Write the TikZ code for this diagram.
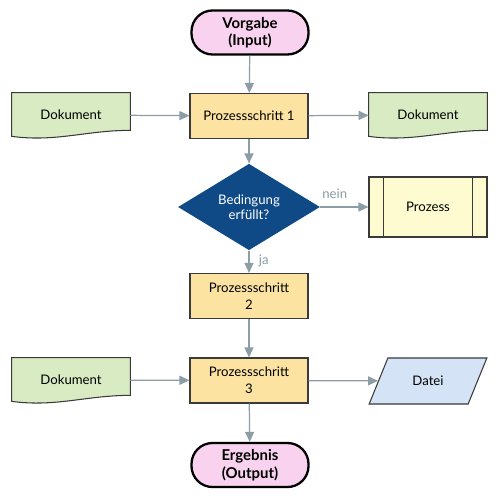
\documentclass[tikz,border=0pt]{standalone}
\usepackage{fontspec}
\setmainfont{Lato}
\usepackage{tikz}
\usetikzlibrary{positioning, calc, shapes.geometric, arrows.meta, backgrounds}
\definecolor{FlowPink}{HTML}{F8D2EE}
\definecolor{FlowStep}{HTML}{FCE3A2}
\definecolor{FlowDoc}{HTML}{D8EBC3}
\definecolor{FlowSub}{HTML}{FEFBD0}
\definecolor{FlowFile}{HTML}{D5E3F7}
\definecolor{FlowNavy}{HTML}{0F4A86}
\definecolor{FlowArrow}{HTML}{8C9DA5}
\definecolor{FlowLine}{HTML}{3A3A3A}
\tikzset{
  terminal/.style={rectangle, rounded corners=0.42cm, draw=black, line width=1.3pt, fill=FlowPink,
    minimum width=2.34cm, minimum height=0.88cm, align=center, font=\fontsize{8.5}{10}\selectfont\bfseries},
  stepbox/.style={rectangle, draw=FlowLine, line width=0.6pt, fill=FlowStep,
    minimum width=2.36cm, minimum height=0.9cm, align=center, font=\fontsize{7.5}{9.5}\selectfont},
  dokument/.style={rectangle, minimum width=2.36cm, minimum height=0.88cm, font=\fontsize{7.5}{9.5}\selectfont},
  subproc/.style={rectangle, draw=FlowLine, line width=0.6pt, fill=FlowSub,
    minimum width=2.36cm, minimum height=1.2cm, font=\fontsize{7.5}{9.5}\selectfont},
  datei/.style={trapezium, trapezium left angle=65, trapezium right angle=115, trapezium stretches=true,
    draw=FlowLine, line width=0.6pt, fill=FlowFile, minimum width=2.36cm, minimum height=0.92cm,
    font=\fontsize{7.5}{9.5}\selectfont},
  decision/.style={diamond, fill=FlowNavy, text=white, inner sep=0pt, minimum width=2.84cm,
    minimum height=1.22cm, align=center, font=\fontsize{7.5}{8.5}\selectfont},
  flow/.style={draw=FlowArrow, line width=0.7pt, -{Triangle[length=2mm,width=1.8mm]}},
  flowlabel/.style={text=FlowArrow, font=\fontsize{7.5}{9}\selectfont}
}
%% document outline with wavy bottom, drawn from the anchors of a node
\newcommand{\dokpath}[1]{%
  \filldraw[fill=FlowDoc, draw=FlowLine, line width=0.6pt]
    (#1.north west) -- (#1.north east) -- ($(#1.south east)+(0,0.14)$)
    .. controls ($(#1.south)+(0.3,0.14)$) and ($(#1.south)+(-0.3,-0.1)$) .. ($(#1.south west)+(0,0.02)$)
    -- cycle;}

\begin{document}
\begin{tikzpicture}
  \useasboundingbox (0,0) rectangle (10,-10);
  %% Main column
  \node[terminal] (input) at (5.0,-0.65) {Vorgabe\\(Input)};
  \node[stepbox] (step1) at (4.98,-2.32) {Prozessschritt 1};
  \node[decision] (cond) at (4.98,-4.14) {Bedingung\\erfüllt?};
  \node[stepbox] (step2) at (4.98,-5.92) {Prozessschritt\\2};
  \node[stepbox] (step3) at (4.98,-7.61) {Prozessschritt\\3};
  \node[terminal] (output) at (5.0,-9.3) {Ergebnis\\(Output)};
  %% Side shapes
  \node[dokument] (docA) at (1.42,-2.3) {Dokument};
  \node[dokument] (docB) at (8.56,-2.3) {Dokument};
  \node[dokument] (docC) at (1.42,-7.6) {Dokument};
  \begin{scope}[on background layer]
    \fill[white] (0,0) rectangle (10,-10);
    \dokpath{docA}
    \dokpath{docB}
    \dokpath{docC}
  \end{scope}
  \node[subproc] (proc) at (8.56,-4.14) {Prozess};
  \draw[FlowLine, line width=0.6pt] ($(proc.north west)+(0.3,0)$) -- ($(proc.south west)+(0.3,0)$);
  \draw[FlowLine, line width=0.6pt] ($(proc.north east)+(-0.3,0)$) -- ($(proc.south east)+(-0.3,0)$);
  \node[datei] (file) at (8.56,-7.62) {Datei};
  %% Connectors
  \draw[flow] (input) -- (step1);
  \draw[flow] (docA) -- (step1);
  \draw[flow] (step1) -- (docB);
  \draw[flow] (step1) -- (cond);
  \draw[flow] (cond) -- node[flowlabel, pos=0.3, above=1pt] {nein} (proc);
  \draw[flow] (cond) -- node[flowlabel, pos=0.45, right=2pt] {ja} (step2);
  \draw[flow] (step2) -- (step3);
  \draw[flow] (docC) -- (step3);
  \draw[flow] (step3) -- (file);
  \draw[flow] (step3) -- (output);
\end{tikzpicture}
\end{document}
